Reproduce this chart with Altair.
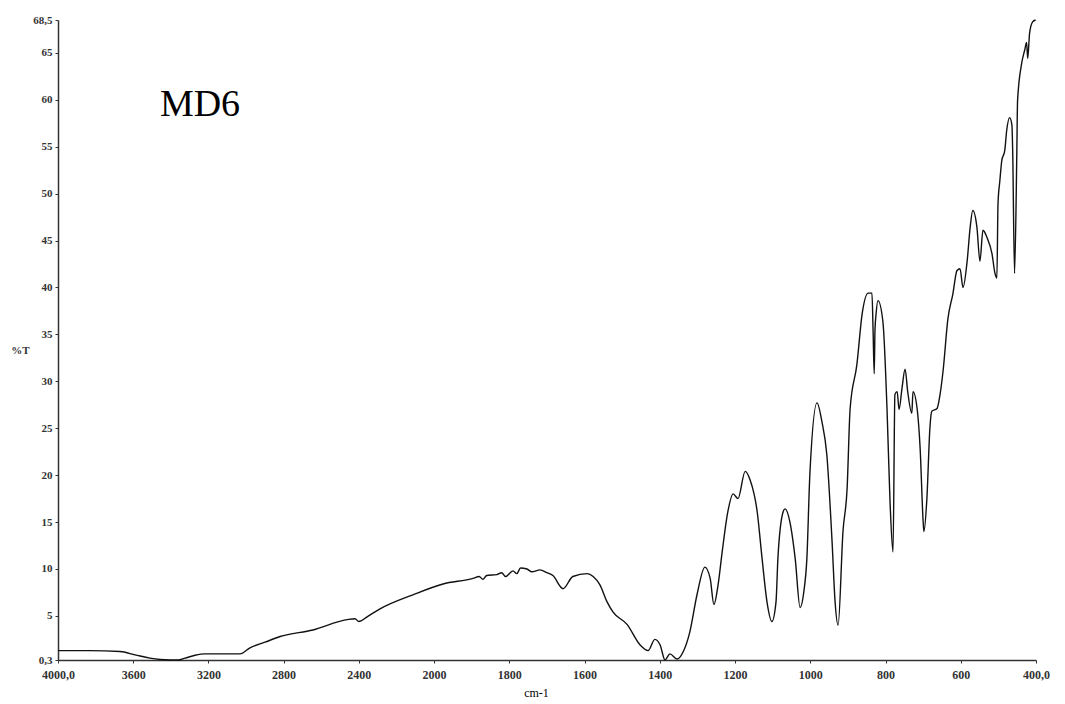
import altair as alt
import pandas as pd

# IR spectrum of sample MD6
wavenumber = [4000, 3830, 3670, 3590, 3511, 3457, 3404, 3362, 3324, 3271, 3218, 3032, 2979, 2899,
              2819, 2644, 2463, 2420, 2400, 2356, 2287, 2112, 1976, 1896, 1880, 1870, 1860, 1833,
              1820, 1810, 1790, 1780, 1770, 1753, 1740, 1718, 1700, 1684, 1657, 1631, 1593, 1577,
              1559, 1540, 1524, 1487, 1452, 1431, 1413, 1399, 1386, 1373, 1354, 1338, 1320, 1301,
              1280, 1266, 1256, 1245, 1234, 1219, 1205, 1192, 1173, 1160, 1141, 1128, 1115, 1102,
              1091, 1086, 1072, 1067, 1054, 1040, 1027, 1017, 1009, 1001, 982, 969, 956, 942,
              934, 926, 913, 902, 894, 876, 862, 846, 836, 833, 830, 828, 825, 820,
              807, 796, 788, 780, 775, 769, 764, 756, 748, 741, 730, 727, 716, 708,
              700, 698, 690, 682, 677, 663, 655, 647, 634, 621, 610, 602, 594, 583,
              575, 568, 557, 549, 541, 530, 517, 509, 504, 501, 496, 491, 483, 478,
              470, 464, 462, 457, 451, 449, 438, 430, 425, 422, 417, 409, 401]
transmittance = [1.3, 1.3, 1.2, 0.85, 0.5, 0.35, 0.3, 0.3, 0.5, 0.8, 0.95, 0.95, 1.6, 2.2,
                 2.8, 3.5, 4.6, 4.7, 4.4, 4.9, 5.75, 7.25, 8.4, 9.0, 9.2, 8.9, 9.3, 9.4,
                 9.6, 9.2, 9.8, 9.5, 10.1, 10.0, 9.7, 9.9, 9.6, 9.3, 7.9, 9.2, 9.5, 9.2,
                 8.3, 6.5, 5.4, 4.1, 1.9, 1.3, 2.5, 1.9, 0.3, 0.95, 0.4, 1.15, 3.3, 7.25,
                 10.2, 9.0, 6.2, 8.3, 11.85, 16.1, 18.0, 17.5, 20.4, 19.5, 16.1, 11.1, 6.5, 4.4,
                 6.5, 11.1, 16.1, 16.4, 15.0, 11.1, 5.9, 7.6, 11.1, 20.1, 27.7, 25.7, 22.2, 12.9,
                 6.5, 4.0, 14.0, 18.6, 27.1, 31.8, 37.2, 39.4, 39.4, 35.4, 30.8, 35.4, 37.2, 38.6,
                 36.4, 27.1, 17.2, 11.8, 28.6, 28.9, 27.0, 29.3, 31.3, 28.9, 26.6, 28.9, 27.1, 22.9,
                 15.1, 14.0, 17.5, 25.0, 26.8, 27.1, 28.6, 31.1, 36.7, 39.3, 41.8, 42.0, 40.0, 42.8,
                 46.4, 48.2, 46.4, 42.8, 46.1, 45.3, 43.6, 41.5, 41.0, 48.9, 51.4, 53.5, 54.6, 56.7,
                 58.1, 57.3, 54.6, 41.5, 54.3, 59.9, 63.9, 65.3, 66.1, 64.4, 67.1, 68.3, 68.5]
assert len(wavenumber) == len(transmittance)

x_ticks = [4000, 3600, 3200, 2800, 2400, 2000, 1800, 1600, 1400, 1200, 1000, 800, 600, 400]
y_ticks = [0.3, 5, 10, 15, 20, 25, 30, 35, 40, 45, 50, 55, 60, 65, 68.5]
sample_label = ["MD6"]

W, H = 978, 640
df = pd.DataFrame({"wn": wavenumber, "T": transmittance, "idx": list(range(len(wavenumber)))})

FONT = "Liberation Serif"

x_enc = alt.X(
    "wn:Q",
    scale=alt.Scale(domain=[4000, 2000, 400], range=[0, 376, W], nice=False, zero=False),
    axis=alt.Axis(
        values=x_ticks,
        labelExpr="datum.value == 4000 ? '4000,0' : (datum.value == 400 ? '400,0' : format(datum.value, 'd'))",
        title="cm-1", titleFont=FONT, titleFontSize=12, titleFontWeight="normal",
        titleX=478, titleY=27, titleAnchor="middle",
        grid=False, tickSize=3, labelPadding=6, labelFontSize=12, labelFont=FONT,
        labelFontWeight="bold", labelColor="#333", domainColor="#333", domainWidth=1.5,
        tickColor="#333", labelFlush=False,
    ),
)
y_enc = alt.Y(
    "T:Q",
    scale=alt.Scale(domain=[0.3, 68.5], nice=False, zero=False),
    axis=alt.Axis(
        values=y_ticks,
        labelExpr="replace(format(datum.value, '.1~f'), '.', ',')",
        title="%T", titleAngle=0, titleX=-38, titleY=330, titleAlign="center",
        titleBaseline="middle", titleFont=FONT, titleFontSize=11, titleFontWeight="bold",
        titleColor="#333",
        grid=False, tickSize=3, labelPadding=3, labelFontSize=11, labelFont=FONT,
        labelFontWeight="bold", labelColor="#333", domainColor="#333", domainWidth=1.5,
        tickColor="#333", labelFlush=False,
    ),
)

line = alt.Chart(df).mark_line(color="#111", strokeWidth=1.4, interpolate="monotone").encode(
    x=x_enc, y=y_enc, order="idx:Q"
)

label = alt.Chart(pd.DataFrame({"t": sample_label})).mark_text(
    font=FONT, fontSize=38, color="#000", align="center", baseline="middle"
).encode(text="t:N", x=alt.value(142), y=alt.value(85))

chart = alt.layer(line, label).properties(
    width=W, height=H,
    autosize=alt.AutoSizeParams(type="none"),
    padding={"left": 50, "top": 12, "right": 20, "bottom": 44},
    background="white",
).configure_view(strokeWidth=0)

chart.save("out.html", embed_options={"renderer": "svg", "actions": False})
